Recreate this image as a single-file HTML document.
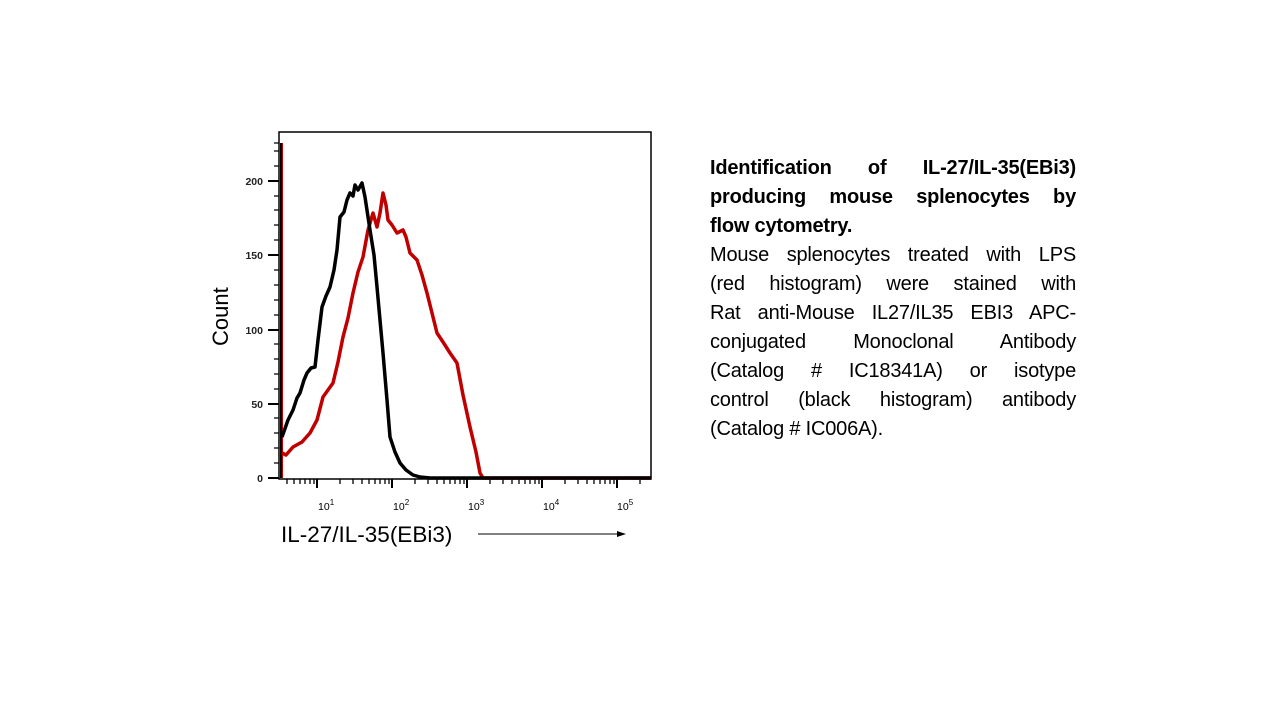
<!DOCTYPE html>
<html><head><meta charset="utf-8"><style>
html,body{margin:0;padding:0;background:#fff;}
body{width:1280px;height:720px;position:relative;overflow:hidden;font-family:"Liberation Sans",sans-serif;}
#txt{position:absolute;left:710px;top:154px;width:366px;font-size:20px;line-height:29px;color:#000;letter-spacing:-0.2px;}
#txt div{text-align:justify;text-align-last:justify;white-space:nowrap;}
#txt div.l{text-align-last:left;}
#txt b{font-weight:bold;}
</style></head><body>
<svg width="1280" height="720" style="position:absolute;left:0;top:0" font-family="Liberation Sans, sans-serif">
<rect x="279" y="132" width="372" height="347" fill="none" stroke="#000" stroke-width="1.5"/>
<g stroke="#000" stroke-width="1.3">
<path d="M274 478H279M274 463H279M274 448H279M274 433H279M274 418H279M274 404H279M274 389H279M274 374H279M274 359H279M274 344H279M274 330H279M274 315H279M274 300H279M274 285H279M274 270H279M274 255H279M274 240H279M274 225H279M274 210H279M274 196H279M274 181H279M274 166H279M274 151H279M274 143H279"/>
<path d="M268 478H279M268 404H279M268 330H279M268 255H279M268 181H279" stroke-width="2"/>
<path d="M287 479V484M294 479V484M300 479V484M305 479V484M310 479V484M314 479V484M340 479V484M353 479V484M362 479V484M369 479V484M375 479V484M380 479V484M385 479V484M389 479V484M415 479V484M428 479V484M437 479V484M444 479V484M450 479V484M455 479V484M460 479V484M464 479V484M490 479V484M503 479V484M512 479V484M519 479V484M525 479V484M530 479V484M535 479V484M539 479V484M565 479V484M578 479V484M587 479V484M594 479V484M600 479V484M605 479V484M610 479V484M614 479V484M640 479V484"/>
<path d="M317 479V488M392 479V488M467 479V488M542 479V488M617 479V488" stroke-width="2"/>
</g>
<g font-size="10.5" font-weight="bold" text-anchor="end" fill="#222">
<text x="263" y="482">0</text><text x="263" y="408">50</text><text x="263" y="334">100</text><text x="263" y="259">150</text><text x="263" y="185">200</text>
</g>
<g font-size="10.5" fill="#000">
<text x="318" y="510">10<tspan dy="-5" font-size="8">1</tspan></text>
<text x="393" y="510">10<tspan dy="-5" font-size="8">2</tspan></text>
<text x="468" y="510">10<tspan dy="-5" font-size="8">3</tspan></text>
<text x="543" y="510">10<tspan dy="-5" font-size="8">4</tspan></text>
<text x="617" y="510">10<tspan dy="-5" font-size="8">5</tspan></text>
</g>
<path d="M282 478V143" stroke="#c00000" stroke-width="2"/>
<path d="M281 478V143" stroke="#000" stroke-width="2"/>
<polyline fill="none" stroke="#c00000" stroke-width="3.5" stroke-linejoin="round" points="282,453 286,455 293,447 302,442 310,433 317,420 323,397 328,390 333,383 338,362 343,337 348,318 353,293 358,272 363,257 368,230 373,213 377,227 380,213 383,193 386,205 388,220 392,225 397,233 403,230 406,237 410,253 417,260 422,275 427,293 432,313 437,333 443,342 450,353 457,363 463,395 470,427 476,452 480,473 483,478 651,478"/>
<polyline fill="none" stroke="#000" stroke-width="3.5" stroke-linejoin="round" points="282,437 288,420 293,410 297,398 300,393 304,380 307,373 311,368 315,367 318,340 322,307 326,296 330,287 334,270 337,250 340,217 344,212 347,200 350,193 353,196 355,185 358,190 362,183 365,197 370,230 374,255 377,287 380,320 383,353 387,400 390,437 395,452 400,463 406,470 413,475 420,477 430,478 651,478"/>
<text x="0" y="0" font-size="22" transform="translate(228,346) rotate(-90)" fill="#000">Count</text>
<text x="281" y="542" font-size="22.5" fill="#000">IL-27/IL-35(EBi3)</text>
<path d="M478 534H620" stroke="#000" stroke-width="1"/>
<path d="M626 534L617 531V537Z" fill="#000"/>
</svg>
<div id="txt">
<div><b>Identification of IL-27/IL-35(EBi3)</b></div>
<div><b>producing mouse splenocytes by</b></div>
<div class="l"><b>flow cytometry.</b></div>
<div>Mouse splenocytes treated with LPS</div>
<div>(red histogram) were stained with</div>
<div>Rat anti-Mouse IL27/IL35 EBI3 APC-</div>
<div>conjugated Monoclonal Antibody</div>
<div>(Catalog # IC18341A) or isotype</div>
<div>control (black histogram) antibody</div>
<div class="l">(Catalog # IC006A).</div>
</div>
</body></html>
